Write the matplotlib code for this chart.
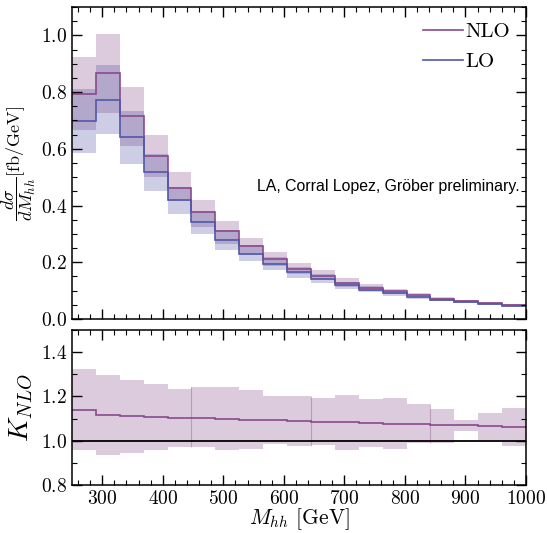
import numpy as np
import matplotlib
matplotlib.use("Agg")
import matplotlib.pyplot as plt
from matplotlib.ticker import MultipleLocator

plt.rcParams['font.family'] = 'serif'
plt.rcParams['font.serif'] = ['cmr10', 'DejaVu Serif']
plt.rcParams['mathtext.fontset'] = 'cm'
plt.rcParams['axes.formatter.use_mathtext'] = True

# ---- data ----
edges = np.linspace(250, 1000, 20)

nlo = [0.794, 0.867, 0.714, 0.573, 0.462, 0.376, 0.312, 0.256, 0.212, 0.177,
       0.152, 0.127, 0.111, 0.097, 0.084, 0.072, 0.063, 0.056, 0.050]
nlo_up = [0.924, 1.005, 0.818, 0.650, 0.517, 0.420, 0.347, 0.287, 0.235, 0.199,
          0.171, 0.144, 0.124, 0.106, 0.091, 0.078, 0.068, 0.061, 0.054]
nlo_dn = [0.665, 0.728, 0.611, 0.499, 0.415, 0.326, 0.265, 0.225, 0.188, 0.158,
          0.136, 0.114, 0.100, 0.087, 0.076, 0.065, 0.057, 0.051, 0.045]

lo = [0.699, 0.773, 0.642, 0.517, 0.418, 0.342, 0.279, 0.230, 0.195, 0.166,
      0.141, 0.119, 0.104, 0.090, 0.078, 0.068, 0.060, 0.053, 0.047]
lo_up = [0.812, 0.897, 0.734, 0.583, 0.465, 0.379, 0.315, 0.260, 0.218, 0.185,
         0.157, 0.132, 0.115, 0.100, 0.086, 0.075, 0.066, 0.058, 0.052]
lo_dn = [0.585, 0.651, 0.547, 0.450, 0.370, 0.299, 0.242, 0.205, 0.174, 0.144,
         0.127, 0.106, 0.094, 0.080, 0.071, 0.062, 0.055, 0.049, 0.043]

k_nlo = [1.138, 1.118, 1.112, 1.107, 1.104, 1.101, 1.098, 1.095, 1.092, 1.089,
         1.086, 1.083, 1.080, 1.077, 1.074, 1.071, 1.070, 1.067, 1.063]
k_up = [1.324, 1.297, 1.275, 1.257, 1.234, 1.243, 1.243, 1.229, 1.202, 1.202,
        1.193, 1.207, 1.189, 1.193, 1.166, 1.143, 1.094, 1.125, 1.148]
k_dn = [0.958, 0.935, 0.946, 0.958, 0.973, 0.970, 0.956, 0.964, 0.985, 0.976,
        0.980, 0.959, 0.971, 0.964, 0.988, 0.988, 1.045, 1.003, 0.977]

group_edges = [5, 10, 15]

c_nlo_line = '#8a4a8c'
c_nlo_band = '#804080'
c_lo_line = '#5058a8'
c_lo_band = '#4040a0'

fig = plt.figure(figsize=(5.47, 5.33), dpi=100)
ax1 = fig.add_axes([0.1316, 0.4015, 0.83, 0.5854])
ax2 = fig.add_axes([0.1316, 0.090, 0.83, 0.291])

# top panel
ax1.stairs(nlo_up, edges, baseline=nlo_dn, fill=True, color=c_nlo_band, alpha=0.27, lw=0)
ax1.stairs(lo_up, edges, baseline=lo_dn, fill=True, color=c_lo_band, alpha=0.26, lw=0)
ax1.stairs(nlo, edges, color=c_nlo_line, lw=1.2, label='NLO', baseline=None)
ax1.stairs(lo, edges, color=c_lo_line, lw=1.2, label='LO', baseline=None)

ax1.set_xlim(250, 1000)
ax1.set_ylim(0, 1.1)
ax1.xaxis.set_major_locator(MultipleLocator(100))
ax1.xaxis.set_minor_locator(MultipleLocator(20))
ax1.yaxis.set_major_locator(MultipleLocator(0.2))
ax1.yaxis.set_minor_locator(MultipleLocator(0.05))
ax1.tick_params(axis='x', labelbottom=False)
ax1.set_ylabel(r'$\dfrac{d\sigma}{dM_{hh}}$[fb/GeV]', fontsize=13, labelpad=2)
leg = ax1.legend(loc='upper right', frameon=False, fontsize=15, handlelength=1.9,
                 handletextpad=0.15, borderaxespad=0.35, labelspacing=0.55)
ax1.text(0.985, 0.425, 'LA, Corral Lopez, Gröber preliminary.', transform=ax1.transAxes,
         ha='right', va='center', fontsize=11.4, family=['Liberation Sans', 'DejaVu Sans'])

# bottom panel
ax2.stairs(k_up, edges, baseline=k_dn, fill=True, color=c_nlo_band, alpha=0.27, lw=0)
for g in group_edges:
    ax2.vlines(edges[g], min(k_dn[g - 1], k_dn[g]), max(k_up[g - 1], k_up[g]),
               color=c_nlo_band, alpha=0.35, lw=0.8)
ax2.stairs(k_nlo, edges, color=c_nlo_line, lw=1.2, baseline=None)
ax2.axhline(1.0, color='black', lw=1.3)
ax2.set_xlim(250, 1000)
ax2.set_ylim(0.8, 1.5)
ax2.xaxis.set_major_locator(MultipleLocator(100))
ax2.xaxis.set_minor_locator(MultipleLocator(20))
ax2.yaxis.set_major_locator(MultipleLocator(0.2))
ax2.yaxis.set_minor_locator(MultipleLocator(0.1))
ax2.set_xlabel(r'$M_{hh}$ [GeV]', fontsize=15.5, labelpad=-1)
ax2.set_ylabel(r'$K_{NLO}$', fontsize=20, labelpad=4)

for ax in (ax1, ax2):
    ax.tick_params(which='both', direction='in', top=True, right=True, labelsize=14)
    ax.tick_params(which='major', length=7, width=1)
    ax.tick_params(which='minor', length=3.5, width=0.8)
    for s in ax.spines.values():
        s.set_linewidth(1.1)

fig.savefig('out.png', dpi=100)
